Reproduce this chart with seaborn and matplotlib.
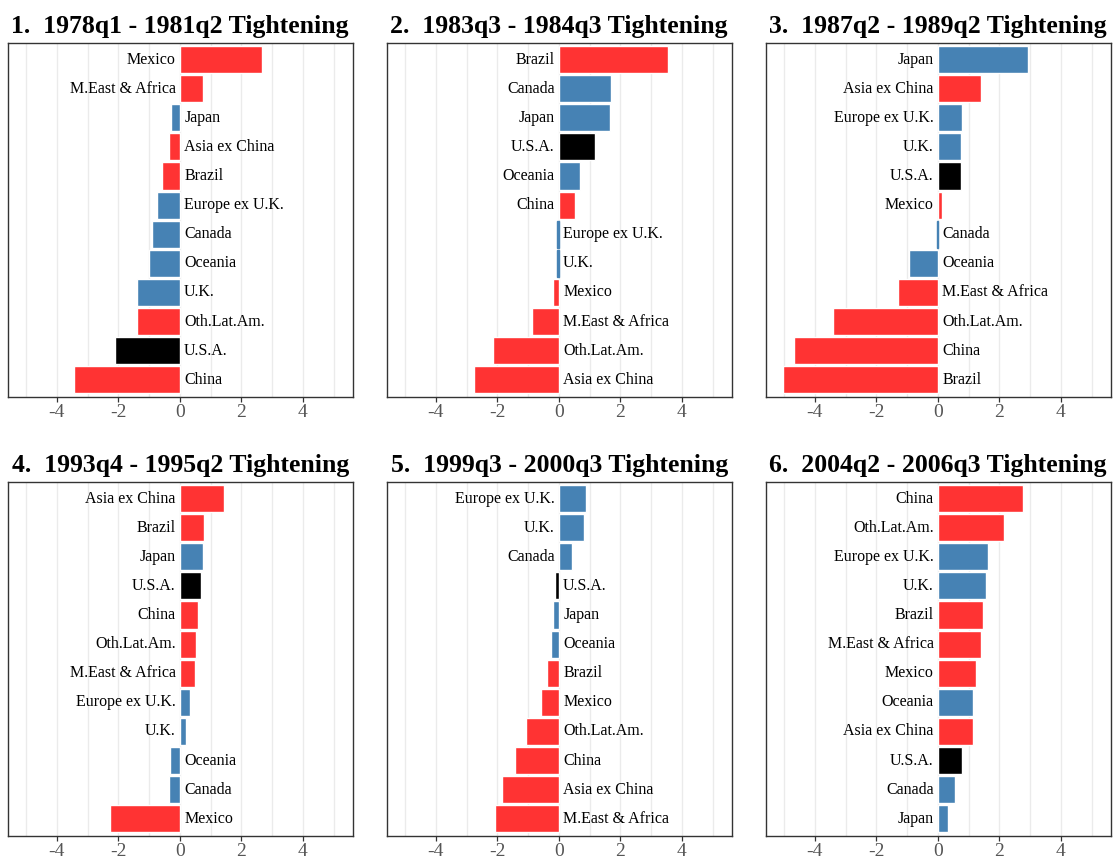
import numpy as np
import pandas as pd
import matplotlib
matplotlib.use('Agg')
import matplotlib.pyplot as plt
import seaborn as sns

# Panel titles
titles = ['1.  1978q1 - 1981q2 Tightening', '2.  1983q3 - 1984q3 Tightening',
          '3.  1987q2 - 1989q2 Tightening', '4.  1993q4 - 1995q2 Tightening',
          '5.  1999q3 - 2000q3 Tightening', '6.  2004q2 - 2006q3 Tightening']

# Regions per panel, top to bottom, with their values
regions_1 = ['Mexico', 'M.East & Africa', 'Japan', 'Asia ex China', 'Brazil', 'Europe ex U.K.',
             'Canada', 'Oceania', 'U.K.', 'Oth.Lat.Am.', 'U.S.A.', 'China']
values_1 = [2.66, 0.75, -0.29, -0.36, -0.58, -0.75, -0.91, -1.01, -1.40, -1.39, -2.11, -3.44]

regions_2 = ['Brazil', 'Canada', 'Japan', 'U.S.A.', 'Oceania', 'China', 'Europe ex U.K.',
             'U.K.', 'Mexico', 'M.East & Africa', 'Oth.Lat.Am.', 'Asia ex China']
values_2 = [3.54, 1.69, 1.65, 1.17, 0.68, 0.52, -0.05, -0.07, -0.19, -0.88, -2.14, -2.76]

regions_3 = ['Japan', 'Asia ex China', 'Europe ex U.K.', 'U.K.', 'U.S.A.', 'Mexico', 'Canada',
             'Oceania', 'M.East & Africa', 'Oth.Lat.Am.', 'China', 'Brazil']
values_3 = [2.92, 1.39, 0.78, 0.75, 0.75, 0.13, -0.04, -0.94, -1.30, -3.41, -4.67, -5.03]

regions_4 = ['Asia ex China', 'Brazil', 'Japan', 'U.S.A.', 'China', 'Oth.Lat.Am.',
             'M.East & Africa', 'Europe ex U.K.', 'U.K.', 'Oceania', 'Canada', 'Mexico']
values_4 = [1.43, 0.78, 0.75, 0.68, 0.58, 0.52, 0.49, 0.32, 0.19, -0.32, -0.36, -2.27]

regions_5 = ['Europe ex U.K.', 'U.K.', 'Canada', 'U.S.A.', 'Japan', 'Oceania', 'Brazil',
             'Mexico', 'Oth.Lat.Am.', 'China', 'Asia ex China', 'M.East & Africa']
values_5 = [0.88, 0.81, 0.42, -0.13, -0.19, -0.26, -0.39, -0.58, -1.07, -1.43, -1.85, -2.08]

regions_6 = ['China', 'Oth.Lat.Am.', 'Europe ex U.K.', 'U.K.', 'Brazil', 'M.East & Africa',
             'Mexico', 'Oceania', 'Asia ex China', 'U.S.A.', 'Canada', 'Japan']
values_6 = [2.76, 2.14, 1.62, 1.56, 1.46, 1.39, 1.23, 1.14, 1.13, 0.78, 0.55, 0.32]

emerging = ['Mexico', 'M.East & Africa', 'Asia ex China', 'Brazil', 'Oth.Lat.Am.', 'China']
developed = ['Japan', 'Europe ex U.K.', 'Canada', 'Oceania', 'U.K.']

palette = {r: '#FF3333' for r in emerging}
palette.update({r: '#4682B4' for r in developed})
palette['U.S.A.'] = 'black'

panels = [(regions_1, values_1), (regions_2, values_2), (regions_3, values_3),
          (regions_4, values_4), (regions_5, values_5), (regions_6, values_6)]

sns.set_style('white')
plt.rcParams['font.family'] = ['Liberation Serif', 'DejaVu Serif']
plt.rcParams['text.color'] = 'black'

fig = plt.figure(figsize=(11.17, 8.58), dpi=100)

W, H = 1117, 858
lefts = [7.7, 386.7, 765.7]
tops = [42.7, 481.7]
aw, ah = 345, 354

for i, (regions, values) in enumerate(panels):
    r, c = divmod(i, 3)
    ax = fig.add_axes([lefts[c] / W, (H - tops[r] - ah) / H, aw / W, ah / H])
    df = pd.DataFrame({'region': regions, 'value': values})

    # light vertical grid at every integer
    for g in range(-5, 6):
        ax.axvline(g, color='#EBEBEB', lw=1.0, zorder=0)

    sns.barplot(data=df, x='value', y='region', hue='region', palette=palette,
                order=regions, width=0.93, legend=False, ax=ax, zorder=2,
                saturation=1)

    # keep near-zero bars visible as a thin line
    for p in ax.patches:
        if abs(p.get_width()) < 0.1:
            p.set_edgecolor(p.get_facecolor())
            p.set_linewidth(1.0)

    # region names next to zero, on the side away from the bar
    for j, (name, v) in enumerate(zip(regions, values)):
        if v >= 0:
            ax.text(-0.14, j, name, ha='right', va='center', fontsize=11.5, color='black', zorder=3)
        else:
            ax.text(0.14, j, name, ha='left', va='center', fontsize=11.5, color='black', zorder=3)

    ax.set_xlim(-5.6, 5.62)
    ax.set_ylim(11.58, -0.58)
    ax.set_xticks([-4, -2, 0, 2, 4])
    ax.set_xticklabels(['-4', '-2', '0', '2', '4'])
    ax.set_yticks([])
    ax.set_xlabel('')
    ax.set_ylabel('')
    ax.tick_params(axis='x', bottom=True, length=3.5, width=0.9, color='#333333',
                   labelsize=14, labelcolor='#555555', pad=2)
    for s in ax.spines.values():
        s.set_color('#333333')
        s.set_linewidth(1.0)
    ax.set_title(titles[i], fontsize=18.5, fontweight='bold', color='black', pad=7)

fig.savefig('out.png', dpi=100)
